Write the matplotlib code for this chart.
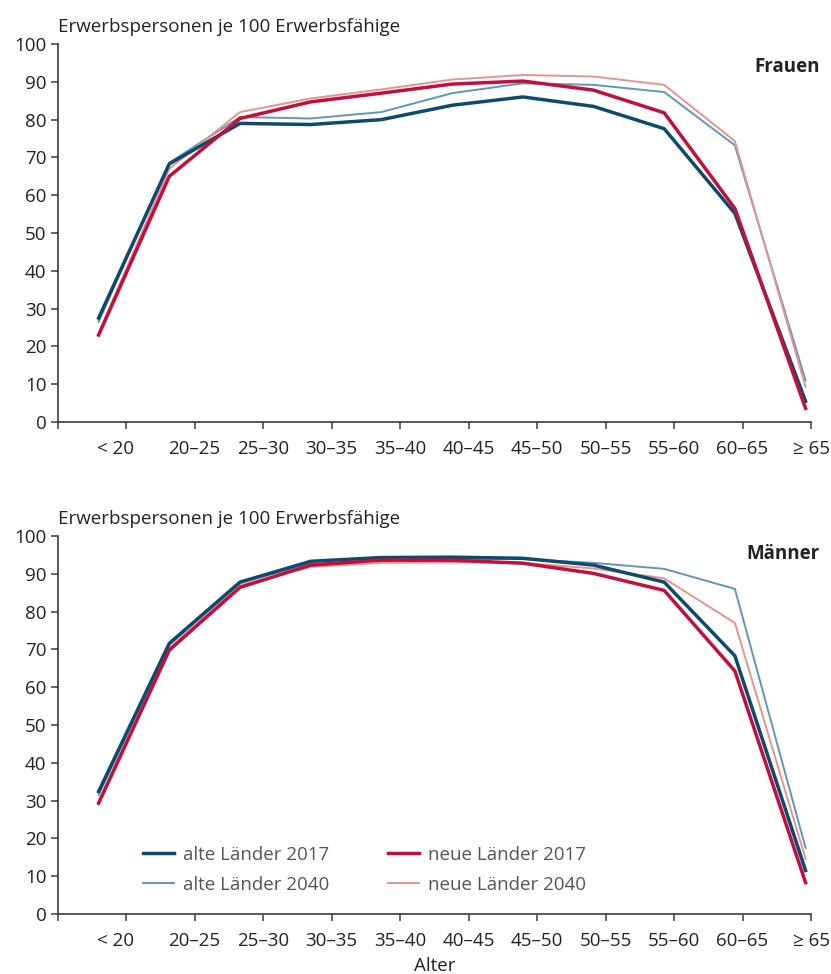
import numpy as np
import matplotlib
matplotlib.use('Agg')
import matplotlib.pyplot as plt

plt.rcParams['font.family'] = ['Open Sans', 'DejaVu Sans']

# Altersgruppen
alter = ['< 20', '20–25', '25–30', '30–35', '35–40', '40–45',
         '45–50', '50–55', '55–60', '60–65', '≥ 65']

# Frauen: Erwerbspersonen je 100 Erwerbsfähige
frauen_alte_2017 = [27.5, 68.3, 79.0, 78.7, 80.0, 83.8, 86.0, 83.5, 77.6, 55.2, 5.5]
frauen_alte_2040 = [26.5, 68.6, 80.7, 80.3, 82.0, 87.0, 89.6, 89.2, 87.3, 73.2, 11.0]
frauen_neue_2017 = [23.0, 65.0, 80.3, 84.7, 87.0, 89.4, 90.2, 87.8, 81.8, 56.5, 3.6]
frauen_neue_2040 = [23.5, 67.0, 82.0, 85.6, 88.0, 90.6, 91.8, 91.4, 89.2, 74.3, 9.3]

# Männer
maenner_alte_2017 = [32.4, 71.6, 87.8, 93.3, 94.3, 94.4, 94.1, 92.3, 87.8, 68.3, 11.5]
maenner_alte_2040 = [31.5, 71.2, 87.6, 92.6, 93.6, 94.0, 93.9, 92.9, 91.3, 86.0, 17.5]
maenner_neue_2017 = [29.3, 69.8, 86.4, 92.3, 93.6, 93.6, 92.8, 90.1, 85.6, 64.3, 8.3]
maenner_neue_2040 = [29.8, 70.3, 87.0, 91.8, 92.9, 93.0, 92.9, 91.4, 88.8, 77.0, 14.6]

dunkelblau = '#0e4a6e'
hellblau = '#6096bb'
rot = '#c20f3c'
rosa = '#e8938f'
achsenfarbe = '#3a3a3a'
fs = 13.5

x_pos = np.linspace(0.6, 10.92, len(alter))

fig = plt.figure(figsize=(8.31, 9.74), dpi=100)
ax_f = fig.add_axes([0.0692, 0.5667, 0.9068, 0.3881])
ax_m = fig.add_axes([0.0692, 0.0616, 0.9068, 0.3881])


def panel(ax, alte17, alte40, neue17, neue40, titel, titel_y):
    ax.plot(x_pos, alte40, color=hellblau, lw=1.4, label='alte Länder 2040', zorder=3)
    ax.plot(x_pos, neue40, color=rosa, lw=1.4, label='neue Länder 2040', zorder=3)
    ax.plot(x_pos, alte17, color=dunkelblau, lw=2.5, label='alte Länder 2017', zorder=4)
    ax.plot(x_pos, neue17, color=rot, lw=2.5, label='neue Länder 2017', zorder=5)

    ax.set_xlim(0, 11)
    ax.set_ylim(0, 100)
    ax.set_yticks(range(0, 101, 10))
    ax.set_xticks(range(0, 12))
    ax.set_xticklabels([''] + alter)
    ax.spines['top'].set_visible(False)
    ax.spines['right'].set_visible(False)
    for s in ['left', 'bottom']:
        ax.spines[s].set_color(achsenfarbe)
        ax.spines[s].set_linewidth(1.2)
    ax.tick_params(axis='both', colors=achsenfarbe, labelcolor='#222222',
                   labelsize=fs, length=5, width=1.1)
    ax.tick_params(axis='x', pad=8)
    ax.tick_params(axis='y', pad=3)
    # "< 20" etwas nach links
    lbl = ax.get_xticklabels()[1]
    lbl.set_transform(lbl.get_transform() + matplotlib.transforms.ScaledTranslation(-0.11, 0, fig.dpi_scale_trans))

    ax.text(0.0, 1.02, 'Erwerbspersonen je 100 Erwerbsfähige', transform=ax.transAxes,
            fontsize=fs, color='#222222', ha='left', va='bottom')
    ax.text(1.012, titel_y, titel, transform=ax.transAxes, fontsize=fs,
            fontweight='bold', color='#222222', ha='right', va='center')


panel(ax_f, frauen_alte_2017, frauen_alte_2040, frauen_neue_2017, frauen_neue_2040, 'Frauen', 0.94)
panel(ax_m, maenner_alte_2017, maenner_alte_2040, maenner_neue_2017, maenner_neue_2040, 'Männer', 0.952)

handles, labels = ax_m.get_legend_handles_labels()
order = [2, 0, 3, 1]
leg = ax_m.legend([handles[i] for i in order], [labels[i] for i in order],
                  ncol=2, loc='upper left', bbox_to_anchor=(0.1135, 0.18),
                  frameon=False, fontsize=fs, handlelength=1.65,
                  columnspacing=3.1, labelspacing=0.62, handletextpad=0.5,
                  borderpad=0, borderaxespad=0)
for t in leg.get_texts():
    t.set_color('#555555')

ax_m.set_xlabel('Alter', fontsize=fs, color='#222222', labelpad=5)

fig.savefig('out.png', dpi=100)
